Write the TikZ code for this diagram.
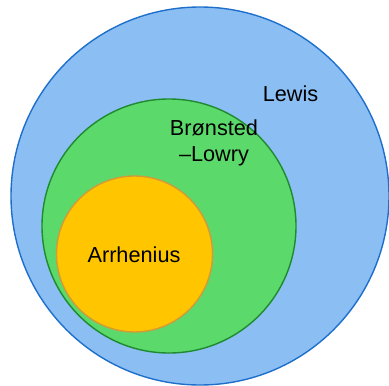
\documentclass[tikz,border=0pt]{standalone}
\usepackage{fontspec}
\setmainfont{Liberation Sans}
\definecolor{lewisfill}{HTML}{8BBEF2}
\definecolor{lewisdraw}{HTML}{1E6FCC}
\definecolor{bfill}{HTML}{5BD96A}
\definecolor{bdraw}{HTML}{1F8A30}
\definecolor{afill}{HTML}{FFC600}
\definecolor{adraw}{HTML}{D39A36}
\begin{document}
\begin{tikzpicture}[x=1pt,y=1pt,
  lbl/.style={font=\fontsize{21.7}{26}\selectfont, text=black, inner sep=0pt, align=center, anchor=base}]
\useasboundingbox (0,0) rectangle (389,-386);
\clip (0,0) rectangle (389,-386);
\draw[fill=lewisfill, draw=lewisdraw, line width=1.4pt] (200,-196) circle (189);
\draw[fill=bfill, draw=bdraw, line width=1.4pt] (169,-226) circle (127);
\draw[fill=afill, draw=adraw, line width=1.4pt] (134.5,-254) circle (78);
\node[lbl] (lewis) at (290.5,-101) {Lewis};
\node[lbl] (bron) at (214,-161) {Brønsted\\–Lowry};
\node[lbl] (arr) at (134,-262) {Arrhenius};
\end{tikzpicture}
\end{document}
